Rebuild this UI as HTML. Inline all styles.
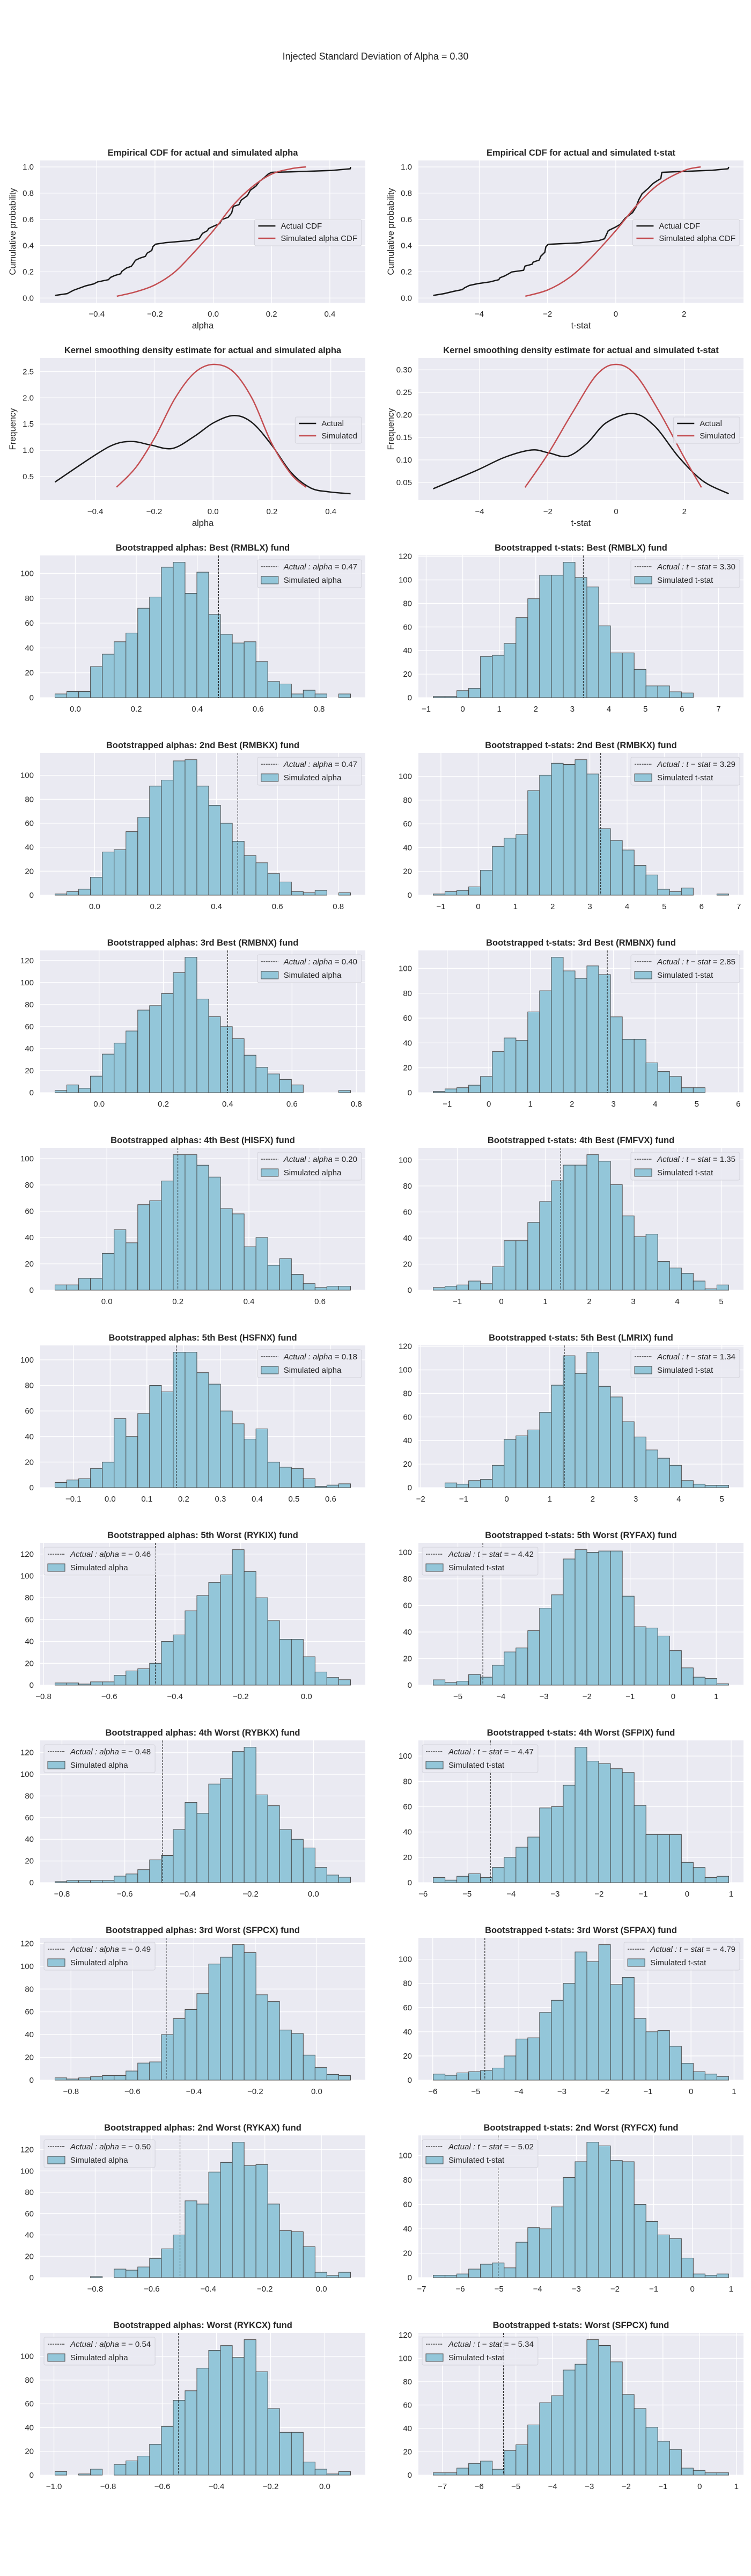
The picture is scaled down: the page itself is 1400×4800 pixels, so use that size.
<!DOCTYPE html>
<html><head><meta charset="utf-8">
<style>
html,body{margin:0;padding:0;background:#fff;}
svg{display:block;}
text{font-family:"Liberation Sans",Arial,sans-serif;fill:#262626;}
</style></head>
<body>
<svg id="fig" width="1400" height="4800" viewBox="0 0 1400 4800" xmlns="http://www.w3.org/2000/svg">
<rect x="0" y="0" width="1400" height="4800" fill="#ffffff"/>
<text x="700" y="111" text-anchor="middle" font-size="18">Injected Standard Deviation of Alpha = 0.30</text>
</svg>
<script>
// ---- CDF data ----
const cdfAlphaActX=[-0.543,-0.501,-0.480,-0.439,-0.410,-0.397,-0.360,-0.352,-0.339,-0.318,-0.314,-0.298,-0.281,-0.274,-0.267,-0.252,-0.233,-0.227,-0.211,-0.207,-0.198,-0.165,-0.082,-0.049,-0.037,-0.020,-0.016,0.001,0.022,0.030,0.051,0.063,0.069,0.088,0.096,0.117,0.127,0.146,0.159,0.175,0.188,0.200,0.266,0.407,0.470,0.471];
const cdfAlphaActY=[0.02,0.034,0.059,0.092,0.108,0.123,0.140,0.158,0.171,0.185,0.203,0.229,0.242,0.264,0.288,0.304,0.318,0.342,0.363,0.393,0.411,0.422,0.438,0.452,0.493,0.514,0.530,0.548,0.568,0.599,0.616,0.648,0.699,0.712,0.747,0.781,0.822,0.853,0.890,0.918,0.945,0.959,0.962,0.973,0.986,1.0];
const cdfAlphaSimX=[-0.331,-0.265,-0.198,-0.132,-0.066,0,0.067,0.134,0.200,0.266,0.318];
const cdfAlphaSimY=[0.014,0.048,0.103,0.199,0.349,0.514,0.705,0.849,0.945,0.986,1.0];
const cdfTActX=[-5.35,-5.03,-4.75,-4.50,-4.43,-4.29,-4.04,-3.69,-3.43,-3.39,-3.26,-3.14,-3.05,-2.70,-2.66,-2.45,-2.42,-2.24,-2.20,-2.08,-2.05,-1.98,-1.07,-0.50,-0.33,-0.22,-0.01,0.13,0.28,0.49,0.59,0.67,0.77,0.95,1.09,1.23,1.32,1.35,2.83,3.29,3.31];
const cdfTActY=[0.02,0.034,0.051,0.064,0.078,0.096,0.110,0.123,0.140,0.155,0.168,0.185,0.199,0.212,0.244,0.258,0.274,0.290,0.318,0.349,0.390,0.410,0.421,0.438,0.452,0.514,0.541,0.562,0.610,0.651,0.692,0.747,0.795,0.836,0.873,0.897,0.911,0.959,0.975,0.986,1.0];
const cdfTSimX=[-2.65,-1.99,-1.35,-0.72,0,0.63,1.27,2.01,2.49];
const cdfTSimY=[0.014,0.062,0.158,0.308,0.514,0.712,0.870,0.973,1.0];
// ---- KDE data ----
const kdeAlphaActX=[-0.537,-0.393,-0.327,-0.270,-0.212,-0.138,-0.064,0.002,0.072,0.133,0.199,0.265,0.331,0.397,0.467];
const kdeAlphaActY=[0.395,0.938,1.13,1.167,1.101,1.036,1.265,1.526,1.663,1.526,1.101,0.578,0.284,0.206,0.173];
const kdeAlphaSimX=[-0.328,-0.262,-0.196,-0.130,-0.064,0,0.067,0.133,0.199,0.265,0.316];
const kdeAlphaSimY=[0.297,0.676,1.265,1.984,2.474,2.637,2.507,1.984,1.134,0.546,0.297];
const kdeTActX=[-5.36,-4.11,-3.26,-2.48,-1.99,-1.42,-0.85,-0.28,0.50,1.13,1.84,2.55,3.30];
const kdeTActY=[0.036,0.076,0.106,0.122,0.116,0.108,0.137,0.183,0.203,0.175,0.106,0.053,0.025];
const kdeTSimX=[-2.67,-1.99,-1.28,-0.57,0,0.57,1.28,1.99,2.50];
const kdeTSimY=[0.039,0.114,0.205,0.289,0.312,0.289,0.205,0.106,0.039];
// ---- histogram data ----
const alphaCounts=[
[3,5,5,25,35,45,52,72,81,105,109,84,101,67,51,44,45,29,13,11,3,6,3,0,3],
[1,3,5,15,36,38,53,65,91,96,112,113,91,75,60,45,33,27,18,11,3,2,4,0,2],
[2,7,4,15,35,45,56,75,79,90,109,123,85,69,60,49,34,23,17,12,7,0,0,0,2],
[4,4,9,9,28,46,36,65,68,83,103,103,95,86,62,58,33,40,19,24,12,5,2,3,3],
[4,6,7,15,20,54,40,58,80,75,106,106,90,81,60,50,38,46,20,16,15,7,1,2,3],
[2,2,1,3,3,9,13,15,20,40,46,68,82,94,101,124,104,80,59,42,42,26,12,7,5],
[1,2,2,2,2,6,8,12,21,25,49,74,64,91,96,121,125,81,71,49,40,32,14,7,5],
[2,1,2,3,4,4,8,15,16,40,54,62,76,102,108,119,112,75,69,44,41,22,11,5,4],
[0,0,0,1,0,8,7,10,18,27,40,72,69,99,108,127,105,106,69,44,43,29,5,2,5],
[3,0,1,5,0,9,12,16,26,41,63,71,90,105,109,99,114,87,56,36,36,11,5,1,3]];
const tCounts=[
[1,1,6,8,35,36,46,68,84,104,104,115,102,94,61,38,38,24,10,10,5,4,0,0,0],
[1,3,4,7,21,41,48,51,88,101,111,110,114,102,56,46,38,25,17,5,3,6,0,0,1],
[1,3,4,6,13,33,44,42,65,82,109,98,92,102,95,61,43,43,24,17,13,4,4,0,0],
[2,3,4,7,5,18,38,38,52,68,84,96,96,104,99,81,57,41,43,22,17,13,7,1,4],
[0,4,3,6,7,19,41,44,49,64,87,112,97,115,86,77,56,43,32,25,19,6,3,2,2],
[4,2,3,8,6,15,25,28,41,58,68,95,102,100,101,101,67,44,43,37,26,13,6,5,1],
[4,2,5,7,4,12,20,28,36,59,60,77,107,96,94,90,87,61,38,38,38,16,12,4,5],
[5,4,6,7,8,10,20,34,35,56,66,80,106,98,112,79,85,51,40,41,28,14,7,5,3],
[2,2,3,7,11,12,8,29,41,40,58,82,95,111,108,96,95,60,46,35,32,16,3,2,3],
[2,2,6,10,12,5,21,26,43,62,68,90,95,116,111,97,69,57,41,29,22,6,4,2,2]];
const alphaBinStart=[-0.0667,-0.130,-0.137,-0.146,-0.150,-0.765,-0.822,-0.852,-0.942,-0.996];
const alphaBinEnd=[0.903,0.840,0.782,0.686,0.654,0.134,0.118,0.110,0.103,0.095];
const tBinStart=[-0.808,-1.208,-1.337,-1.549,-1.708,-5.573,-5.77,-5.99,-6.70,-7.25];
const tBinEnd=[7.28,6.73,5.77,5.17,5.16,1.29,0.945,0.876,0.94,0.79];
const alphaActual=[0.47,0.47,0.40,0.20,0.18,-0.46,-0.48,-0.49,-0.50,-0.54];
const tActual=[3.30,3.29,2.85,1.35,1.34,-4.42,-4.47,-4.79,-5.02,-5.34];
const alphaFunds=["Best (RMBLX)","2nd Best (RMBKX)","3rd Best (RMBNX)","4th Best (HISFX)","5th Best (HSFNX)","5th Worst (RYKIX)","4th Worst (RYBKX)","3rd Worst (SFPCX)","2nd Worst (RYKAX)","Worst (RYKCX)"];
const tFunds=["Best (RMBLX)","2nd Best (RMBKX)","3rd Best (RMBNX)","4th Best (FMFVX)","5th Best (LMRIX)","5th Worst (RYFAX)","4th Worst (SFPIX)","3rd Worst (SFPAX)","2nd Worst (RYFCX)","Worst (SFPCX)"];
const alphaTickStep=[0.2,0.2,0.2,0.2,0.1,0.2,0.2,0.2,0.2,0.2];
const tLegendRight=[true,true,true,true,true,false,false,true,false,false];

const NS='http://www.w3.org/2000/svg';
const svg=document.getElementById('fig');
const AW=606, AH=265;
function mk(tag,attrs,name,parent){
  const el=document.createElementNS(NS,tag);
  for(const k in attrs) el.setAttribute(k,attrs[k]);
  
  
  (parent||svg).appendChild(el);
  return el;
}
function fmt(v,dec){const s=Math.abs(v).toFixed(dec);return (v<-1e-9?'\u2212':'')+s;}
function ticksFor(lo,hi,step){const out=[];let t=Math.ceil((lo-1e-9)/step)*step;for(;t<=hi+1e-9;t+=step)out.push(Math.round(t/step)*step);return out;}
function makeAxes(col,row,xr,yr,xstep,ystep,xdec,ydec,title,xlabel,ylabel,name){
  const x0=col===0?75:780, y0=299+row*368, y1=y0+AH;
  const g=mk('g',{},name);
  mk('rect',{x:x0,y:y0,width:AW,height:AH,fill:'#EAEAF2'},'plot-area',g);
  const sx=v=>x0+(v-xr[0])/(xr[1]-xr[0])*AW;
  const sy=v=>y1-(v-yr[0])/(yr[1]-yr[0])*AH;
  ticksFor(xr[0],xr[1],xstep).forEach(t=>{
    const x=sx(t);
    mk('line',{x1:x,x2:x,y1:y0,y2:y1,stroke:'#fff','stroke-width':1.3},'x-grid-line',g);
    const tx=mk('text',{x:x,y:y1+26,'text-anchor':'middle','font-size':15},'x-tick-label',g);
    tx.textContent=fmt(t,xdec);
  });
  ticksFor(yr[0],yr[1],ystep).forEach(t=>{
    const y=sy(t);
    mk('line',{x1:x0,x2:x0+AW,y1:y,y2:y,stroke:'#fff','stroke-width':1.3},'y-grid-line',g);
    const tx=mk('text',{x:x0-12,y:y+5,'text-anchor':'end','font-size':15},'y-tick-label',g);
    tx.textContent=fmt(t,ydec);
  });
  const tt=mk('text',{x:x0+AW/2,y:y0-9,'text-anchor':'middle','font-size':16.5,'font-weight':'bold'},'chart-title',g);
  tt.textContent=title;
  if(xlabel){const t=mk('text',{x:x0+AW/2,y:y1+48,'text-anchor':'middle','font-size':16.5},'x-axis-title',g);t.textContent=xlabel;}
  if(ylabel){const t=mk('text',{x:0,y:0,transform:`translate(${x0-46},${y0+AH/2}) rotate(-90)`,'text-anchor':'middle','font-size':16.5},'y-axis-title',g);t.textContent=ylabel;}
  return {x0,y0,y1,sx,sy,g};
}
function rng(arrs){let lo=Infinity,hi=-Infinity;arrs.forEach(a=>a.forEach(v=>{lo=Math.min(lo,v);hi=Math.max(hi,v);}));const m=(hi-lo)*0.05;return [lo-m,hi+m];}
function poly(ax,xs,ys,color,name){
  const pts=xs.map((x,i)=>ax.sx(x).toFixed(1)+','+ax.sy(ys[i]).toFixed(1)).join(' ');
  mk('polyline',{points:pts,fill:'none',stroke:color,'stroke-width':2.5,'stroke-linejoin':'round'},name,ax.g);
}
function smooth(ax,xs,ys,color,name){
  const P=xs.map((x,i)=>[ax.sx(x),ax.sy(ys[i])]);
  let d='M'+P[0][0].toFixed(1)+','+P[0][1].toFixed(1);
  for(let i=0;i<P.length-1;i++){
    const p0=P[Math.max(0,i-1)],p1=P[i],p2=P[i+1],p3=P[Math.min(P.length-1,i+2)];
    const c1=[p1[0]+(p2[0]-p0[0])/6,p1[1]+(p2[1]-p0[1])/6];
    const c2=[p2[0]-(p3[0]-p1[0])/6,p2[1]-(p3[1]-p1[1])/6];
    d+=' C'+c1[0].toFixed(1)+','+c1[1].toFixed(1)+' '+c2[0].toFixed(1)+','+c2[1].toFixed(1)+' '+p2[0].toFixed(1)+','+p2[1].toFixed(1);
  }
  mk('path',{d:d,fill:'none',stroke:color,'stroke-width':2.5,'stroke-linejoin':'round'},name,ax.g);
}
function lineLegend(ax,labels,colors){
  const g=mk('g',{},'legend',ax.g);
  const box=mk('rect',{x:0,y:ax.y0+110,width:10,height:49,rx:3,fill:'#EAEAF2',stroke:'#d0d0d8','stroke-width':1,opacity:0.9},'legend-box',g);
  let maxw=0;const items=[];
  labels.forEach((lab,i)=>{
    const y=ax.y0+122+i*23;
    const l=mk('line',{x1:0,x2:32,y1:y,y2:y,stroke:colors[i],'stroke-width':2.5},'legend-handle',g);
    const t=mk('text',{x:0,y:y+5,'font-size':15},'legend-entry',g);t.textContent=lab;
    maxw=Math.max(maxw,t.getComputedTextLength());items.push([l,t]);
  });
  const bw=49+maxw+8, bx=ax.x0+AW-7-bw;
  box.setAttribute('x',bx);box.setAttribute('width',bw);
  items.forEach(([l,t])=>{l.setAttribute('x1',bx+7);l.setAttribute('x2',bx+39);t.setAttribute('x',bx+49);});
}
let ax=makeAxes(0,0,rng([cdfAlphaActX,cdfAlphaSimX]),rng([cdfAlphaActY,cdfAlphaSimY]),0.2,0.2,1,1,'Empirical CDF for actual and simulated alpha','alpha','Cumulative probability','cdf-alpha-chart');
poly(ax,cdfAlphaActX,cdfAlphaActY,'#1a1a1a','actual-cdf-line');
smooth(ax,cdfAlphaSimX,cdfAlphaSimY,'#C44E52','simulated-cdf-line');
lineLegend(ax,['Actual CDF','Simulated alpha CDF'],['#1a1a1a','#C44E52']);
ax=makeAxes(1,0,rng([cdfTActX,cdfTSimX]),rng([cdfTActY,cdfTSimY]),2,0.2,0,1,'Empirical CDF for actual and simulated t-stat','t-stat','Cumulative probability','cdf-tstat-chart');
poly(ax,cdfTActX,cdfTActY,'#1a1a1a','actual-cdf-line');
smooth(ax,cdfTSimX,cdfTSimY,'#C44E52','simulated-cdf-line');
lineLegend(ax,['Actual CDF','Simulated alpha CDF'],['#1a1a1a','#C44E52']);
ax=makeAxes(0,1,rng([kdeAlphaActX,kdeAlphaSimX]),rng([kdeAlphaActY,kdeAlphaSimY]),0.2,0.5,1,1,'Kernel smoothing density estimate for actual and simulated alpha','alpha','Frequency','kde-alpha-chart');
smooth(ax,kdeAlphaActX,kdeAlphaActY,'#1a1a1a','actual-kde-line');
smooth(ax,kdeAlphaSimX,kdeAlphaSimY,'#C44E52','simulated-kde-line');
lineLegend(ax,['Actual','Simulated'],['#1a1a1a','#C44E52']);
ax=makeAxes(1,1,rng([kdeTActX,kdeTSimX]),rng([kdeTActY,kdeTSimY]),2,0.05,0,2,'Kernel smoothing density estimate for actual and simulated t-stat','t-stat','Frequency','kde-tstat-chart');
smooth(ax,kdeTActX,kdeTActY,'#1a1a1a','actual-kde-line');
smooth(ax,kdeTSimX,kdeTSimY,'#C44E52','simulated-kde-line');
lineLegend(ax,['Actual','Simulated'],['#1a1a1a','#C44E52']);

function histChart(col,row,counts,start,end,actual,title,kind,xstep,xdec,legendRight,name){
  const n=counts.length,w=(end-start)/n,m=(end-start)*0.05;
  const ymax=Math.max(...counts)*1.05;
  const ax=makeAxes(col,row,[start-m,end+m],[0,ymax],xstep,20,xdec,0,title,null,null,name);
  counts.forEach((c,i)=>{
    const xa=ax.sx(start+i*w),xb=ax.sx(start+(i+1)*w);
    mk('rect',{x:xa,y:ax.sy(c),width:xb-xa,height:ax.y1-ax.sy(c),fill:'#93C6D9',stroke:'#454545','stroke-width':1},'histogram-bar',ax.g);
  });
  const vx=ax.sx(actual);
  mk('line',{x1:vx,x2:vx,y1:ax.y0,y2:ax.y1,stroke:'#1a1a1a','stroke-width':1,'stroke-dasharray':'4,2'},'actual-value-line',ax.g);
  const g=mk('g',{},'legend',ax.g);
  const box=mk('rect',{x:0,y:ax.y0+8,width:10,height:52,rx:3,fill:'#EAEAF2',stroke:'#d0d0d8','stroke-width':1,opacity:0.9},'legend-box',g);
  const y1=ax.y0+21,y2=ax.y0+46;
  const l1=mk('line',{x1:0,x2:32,y1:y1,y2:y1,stroke:'#1a1a1a','stroke-width':1.2,'stroke-dasharray':'3,1.5'},'legend-handle-actual',g);
  const t1=mk('text',{x:0,y:y1+5,'font-size':15},'legend-entry-actual',g);
  const ti=document.createElementNS(NS,'tspan');ti.setAttribute('font-style','italic');
  ti.textContent=kind==='alpha'?'Actual : alpha':'Actual : t \u2212 stat';t1.appendChild(ti);
  const tn=document.createElementNS(NS,'tspan');
  tn.textContent=' = '+(actual<0?'\u2212 ':'')+Math.abs(actual).toFixed(2);t1.appendChild(tn);
  const p=mk('rect',{x:0,y:y2-7,width:32,height:14,fill:'#93C6D9',stroke:'#454545','stroke-width':1},'legend-handle-simulated',g);
  const t2=mk('text',{x:0,y:y2+5,'font-size':15},'legend-entry-simulated',g);
  t2.textContent=kind==='alpha'?'Simulated alpha':'Simulated t-stat';
  const bw=49+Math.max(t1.getComputedTextLength(),t2.getComputedTextLength())+8;
  const bx=legendRight?ax.x0+AW-7-bw:ax.x0+7;
  box.setAttribute('x',bx);box.setAttribute('width',bw);
  l1.setAttribute('x1',bx+7);l1.setAttribute('x2',bx+39);p.setAttribute('x',bx+7);
  t1.setAttribute('x',bx+49);t2.setAttribute('x',bx+49);
}
for(let i=0;i<10;i++){
  histChart(0,i+2,alphaCounts[i],alphaBinStart[i],alphaBinEnd[i],alphaActual[i],'Bootstrapped alphas: '+alphaFunds[i]+' fund','alpha',alphaTickStep[i],1,i<5,'alpha-histogram-'+(i+1));
  histChart(1,i+2,tCounts[i],tBinStart[i],tBinEnd[i],tActual[i],'Bootstrapped t-stats: '+tFunds[i]+' fund','t',1,0,tLegendRight[i],'tstat-histogram-'+(i+1));
}
</script>
</body></html>
